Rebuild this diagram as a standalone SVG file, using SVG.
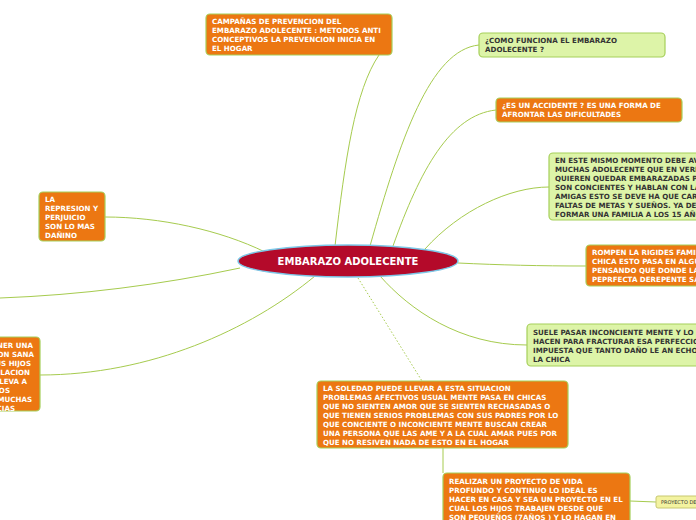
<svg xmlns="http://www.w3.org/2000/svg" width="696" height="520" viewBox="0 0 696 520">
<style>
.o{fill:#EC7712;stroke:#A6CF5A;stroke-width:1.2}
.g{fill:#DDF4A8;stroke:#A6CF5A;stroke-width:1.2}
.y{fill:#F3F3A0;stroke:#C8C870;stroke-width:1}
.tw{font-family:"DejaVu Sans",Verdana,sans-serif;font-weight:bold;font-size:7.1px;fill:#FFFFFF}
.td{font-family:"DejaVu Sans",Verdana,sans-serif;font-weight:bold;font-size:7.1px;fill:#333333}
.c{fill:none;stroke:#A6CB4E;stroke-width:1}
</style>
<rect width="696" height="520" fill="#FFFFFF"/>
<g id="connectors">
<path class="c" d="M335,246 C345,160 355,90 379,55"/>
<path class="c" d="M370,246 C400,140 430,50 479,45"/>
<path class="c" d="M393,246 C420,170 450,115 496,110"/>
<path class="c" d="M425,249 C460,210 510,187 549,187"/>
<path class="c" d="M458,263 C500,265 540,266 586,266"/>
<path class="c" d="M380,276 C410,310 460,345 527,345"/>
<path class="c" d="M265,252 C220,230 160,217 105,217"/>
<path class="c" d="M240,268 C160,285 80,295 0,298"/>
<path class="c" d="M315,276 C250,330 150,375 40,375"/>
<path class="c" d="M358,278 L422,381" stroke-dasharray="1.5,2"/>
<path class="c" d="M443,448 L443,473"/>
<path class="c" d="M630,501 L656,502"/>
</g>
<g id="center">
<ellipse cx="348" cy="261" rx="110" ry="16" fill="#B40A2A" stroke="#7CC8E8" stroke-width="1.5"/>
<text x="348" y="265" text-anchor="middle" font-family="DejaVu Sans,Verdana,sans-serif" font-weight="bold" font-size="10px" fill="#FFFFFF">EMBARAZO ADOLECENTE</text>
</g>
<g id="n1">
<rect class="o" x="206" y="14" width="186" height="41" rx="4"/>
<text class="tw" x="212" y="24">CAMPAÑAS DE PREVENCION DEL</text>
<text class="tw" x="212" y="33">EMBARAZO ADOLECENTE : METODOS ANTI</text>
<text class="tw" x="212" y="42">CONCEPTIVOS LA PREVENCION INICIA EN</text>
<text class="tw" x="212" y="51">EL HOGAR</text>
</g>
<g id="n2">
<rect class="g" x="479" y="33" width="186" height="24" rx="4"/>
<text class="td" x="485" y="43">¿COMO FUNCIONA EL EMBARAZO</text>
<text class="td" x="485" y="52">ADOLECENTE ?</text>
</g>
<g id="n3">
<rect class="o" x="496" y="98" width="186" height="24" rx="4"/>
<text class="tw" x="502" y="108">¿ES UN ACCIDENTE ? ES UNA FORMA DE</text>
<text class="tw" x="502" y="117">AFRONTAR LAS DIFICULTADES</text>
</g>
<g id="n4">
<rect class="g" x="549" y="153" width="190" height="67" rx="4"/>
<text class="td" x="555" y="163">EN ESTE MISMO MOMENTO DEBE AVER</text>
<text class="td" x="555" y="172">MUCHAS  ADOLECENTE QUE EN VERDAD</text>
<text class="td" x="555" y="181">QUIEREN QUEDAR  EMBARAZADAS PORQUE</text>
<text class="td" x="555" y="190">SON CONCIENTES Y HABLAN CON LAS</text>
<text class="td" x="555" y="199">AMIGAS ESTO SE DEVE HA QUE CARECEN</text>
<text class="td" x="555" y="208">FALTAS DE METAS Y SUEÑOS. YA DESEAN</text>
<text class="td" x="555" y="217">FORMAR UNA FAMILIA A LOS 15 AÑOS</text>
</g>
<g id="n5">
<rect class="o" x="586" y="245" width="160" height="41" rx="4"/>
<text class="tw" x="592" y="255">ROMPEN LA RIGIDES FAMILIAR DE LA</text>
<text class="tw" x="592" y="264">CHICA ESTO PASA EN ALGUNAS FAMILIAS</text>
<text class="tw" x="592" y="273">PENSANDO QUE DONDE LA FAMILIA</text>
<text class="tw" x="592" y="282">PEPRFECTA DEREPENTE SALE</text>
</g>
<g id="n6">
<rect class="g" x="527" y="324" width="190" height="42" rx="4"/>
<text class="td" x="533" y="335">SUELE PASAR INCONCIENTE MENTE Y LO</text>
<text class="td" x="533" y="344">HACEN PARA FRACTURAR ESA PERFECCION</text>
<text class="td" x="533" y="353">IMPUESTA QUE TANTO DAÑO LE AN ECHO A</text>
<text class="td" x="533" y="362">LA CHICA</text>
</g>
<g id="n7">
<rect class="o" x="39" y="192" width="66" height="49" rx="4"/>
<text class="tw" x="45" y="202">LA</text>
<text class="tw" x="45" y="211">REPRESION Y</text>
<text class="tw" x="45" y="220">PERJUICIO</text>
<text class="tw" x="45" y="229">SON LO MAS</text>
<text class="tw" x="45" y="238">DAÑINO</text>
</g>
<g id="n8">
<rect class="o" x="-40" y="337" width="80" height="74" rx="4"/>
<text class="tw" text-anchor="end" x="33" y="348">TENER UNA</text>
<text class="tw" text-anchor="end" x="34" y="357">RELACION SANA</text>
<text class="tw" text-anchor="end" x="31" y="366">CON SUS HIJOS</text>
<text class="tw" text-anchor="end" x="30" y="375">UNA RELACION</text>
<text class="tw" text-anchor="end" x="27" y="384">QUE LLEVA A</text>
<text class="tw" text-anchor="end" x="10" y="393">QUE LOS</text>
<text class="tw" text-anchor="end" x="32" y="402">TENGAN MUCHAS</text>
<text class="tw" text-anchor="end" x="15" y="411">CONFIDENCIAS</text>
</g>
<g id="n9">
<rect class="o" x="317" y="381" width="251" height="67" rx="4"/>
<text class="tw" x="323" y="391">LA SOLEDAD PUEDE LLEVAR A ESTA SITUACION</text>
<text class="tw" x="323" y="400">PROBLEMAS AFECTIVOS USUAL MENTE PASA EN CHICAS</text>
<text class="tw" x="323" y="409">QUE NO SIENTEN AMOR QUE SE SIENTEN RECHASADAS O</text>
<text class="tw" x="323" y="418">QUE TIENEN SERIOS PROBLEMAS CON SUS PADRES POR LO</text>
<text class="tw" x="323" y="427">QUE CONCIENTE O INCONCIENTE MENTE BUSCAN CREAR</text>
<text class="tw" x="323" y="436">UNA PERSONA QUE LAS AME Y A LA CUAL AMAR PUES POR</text>
<text class="tw" x="323" y="445">QUE NO RESIVEN NADA DE ESTO EN EL HOGAR</text>
</g>
<g id="n10">
<rect class="o" x="443" y="473" width="187" height="60" rx="4"/>
<text class="tw" x="449" y="484">REALIZAR UN PROYECTO DE VIDA</text>
<text class="tw" x="449" y="493">PROFUNDO Y CONTINUO LO IDEAL ES</text>
<text class="tw" x="449" y="502">HACER EN CASA Y SEA UN PROYECTO EN EL</text>
<text class="tw" x="449" y="511">CUAL LOS HIJOS TRABAJEN DESDE QUE</text>
<text class="tw" x="449" y="520">SON PEQUEÑOS (7AÑOS ) Y LO HAGAN EN</text>
</g>
<g id="n11">
<rect class="y" x="656" y="496" width="60" height="12" rx="2"/>
<text x="661" y="504" font-family="DejaVu Sans,Verdana,sans-serif" font-size="5px" fill="#333333">PROYECTO DE VIDA</text>
</g>
</svg>
